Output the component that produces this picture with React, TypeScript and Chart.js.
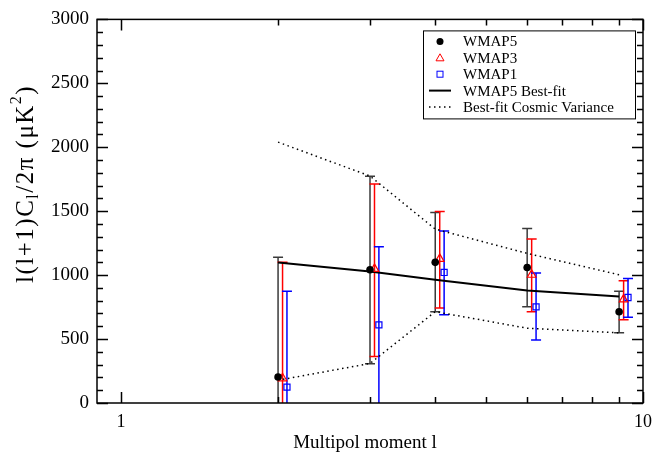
import React, { useEffect, useRef } from 'react';
import { Chart, registerables } from 'chart.js';

Chart.register(...registerables);

// ---- data ----
const multipoles = [2, 3, 4, 6, 9];
const wmap5 = [203, 1042, 1100, 1060, 714];
const wmap5Hi = [1139, 1773, 1490, 1364, 874];
const wmap5Lo = [-733, 307, 714, 752, 549];
const wmap3 = [193, 1049, 1127, 1003, 810];
const wmap3Hi = [1100, 1712, 1498, 1283, 957];
const wmap3Lo = [-714, 363, 742, 714, 652];
const wmap1 = [124, 611, 1021, 752, 825];
const wmap1Hi = [874, 1222, 1346, 1016, 974];
const wmap1Lo = [-626, -200, 691, 492, 670];
const bestFit = [1098, 1029, 964, 879, 833];
const cvUpper = [2040, 1775, 1360, 1170, 1003];
const cvLower = [178, 309, 714, 585, 549];
const wmap3Shift = 1.02;
const wmap1Shift = 1.04;
const xTickLabels = [1, 10];
const xMinorTicks = [2, 3, 4, 5, 6, 7, 8, 9];
const legendLabels = ['WMAP5', 'WMAP3', 'WMAP1', 'WMAP5 Best-fit', 'Best-fit Cosmic Variance'];
const xTitle = 'Multipol moment l';

const FONT = '"Liberation Serif", "DejaVu Serif", serif';

const pts = (xs: number[], ys: number[], k = 1) => xs.map((x, i) => ({ x: x * k, y: ys[i] }));

const errorBarPlugin = {
  id: 'errorBars',
  beforeDatasetsDraw(chart: any) {
    const { ctx, chartArea, scales } = chart;
    const xs = scales.x, ys = scales.y;
    ctx.save();
    ctx.beginPath();
    ctx.rect(chartArea.left, chartArea.top, chartArea.right - chartArea.left, chartArea.bottom - chartArea.top);
    ctx.clip();
    const series = [
      { k: 1, hi: wmap5Hi, lo: wmap5Lo, color: '#3a3a3a' },
      { k: wmap3Shift, hi: wmap3Hi, lo: wmap3Lo, color: '#ff0000' },
      { k: wmap1Shift, hi: wmap1Hi, lo: wmap1Lo, color: '#0000ff' },
    ];
    for (const s of series) {
      ctx.strokeStyle = s.color;
      ctx.lineWidth = 1.5;
      multipoles.forEach((l, i) => {
        const x = xs.getPixelForValue(l * s.k);
        const yh = ys.getPixelForValue(s.hi[i]);
        const yl = ys.getPixelForValue(s.lo[i]);
        ctx.beginPath();
        ctx.moveTo(x, yh);
        ctx.lineTo(x, yl);
        ctx.moveTo(x - 5, yh);
        ctx.lineTo(x + 5, yh);
        ctx.moveTo(x - 5, yl);
        ctx.lineTo(x + 5, yl);
        ctx.stroke();
      });
    }
    ctx.restore();
  },
};

const framePlugin = {
  id: 'frame',
  afterDraw(chart: any) {
    const { ctx, chartArea, scales } = chart;
    const { left, right, top, bottom } = chartArea;
    ctx.save();
    ctx.strokeStyle = '#000';
    ctx.lineWidth = 1.5;
    ctx.strokeRect(left, top, right - left, bottom - top);
    ctx.beginPath();
    for (let v = 0; v <= 3000; v += 100) {
      const len = v % 500 === 0 ? 11 : 6;
      const y = Math.round(scales.y.getPixelForValue(v)) + 0.5;
      ctx.moveTo(left, y);
      ctx.lineTo(left + len, y);
      ctx.moveTo(right, y);
      ctx.lineTo(right - len, y);
    }
    const xt = [...xTickLabels.map((v) => ({ v, len: 11 })), ...xMinorTicks.map((v) => ({ v, len: 6 }))];
    for (const t of xt) {
      const x = Math.round(scales.x.getPixelForValue(t.v)) + 0.5;
      ctx.moveTo(x, bottom);
      ctx.lineTo(x, bottom - t.len);
      ctx.moveTo(x, top);
      ctx.lineTo(x, top + t.len);
    }
    ctx.stroke();

    // axis titles
    ctx.fillStyle = '#000';
    ctx.font = `19px ${FONT}`;
    ctx.textAlign = 'center';
    ctx.textBaseline = 'alphabetic';
    ctx.fillText(xTitle, (left + right) / 2 - 5, 448);

    // y title with subscript / superscript
    const size = 25;
    const small = 16;
    const spacing = 1.5;
    const parts = [
      { t: 'l(l+1)C', f: size, dy: 0 },
      { t: 'l', f: small, dy: 5 },
      { t: '/2\u03c0 (\u03bcK', f: size, dy: 0 },
      { t: '2', f: small, dy: -12 },
      { t: ')', f: size, dy: 0 },
    ];
    ctx.save();
    ctx.translate(33, 283);
    ctx.rotate(-Math.PI / 2);
    ctx.textAlign = 'left';
    let cx = 0;
    for (const p of parts) {
      ctx.font = `${p.f}px ${FONT}`;
      for (const ch of p.t) {
        ctx.fillText(ch, cx, p.dy);
        cx += ctx.measureText(ch).width + spacing;
      }
    }
    ctx.restore();

    // legend
    const bx = right - 220, by = top + 11, bw = 212, bh = 88;
    ctx.fillStyle = '#fff';
    ctx.fillRect(bx, by, bw, bh);
    ctx.lineWidth = 1;
    ctx.strokeStyle = '#000';
    ctx.strokeRect(bx + 0.5, by + 0.5, bw, bh);
    ctx.font = `15px ${FONT}`;
    ctx.textAlign = 'left';
    ctx.textBaseline = 'middle';
    const symX = bx + 17;
    legendLabels.forEach((lab, i) => {
      const y = by + 11 + i * 16.4;
      ctx.fillStyle = '#000';
      ctx.fillText(lab, bx + 40, y + 1);
      ctx.save();
      if (i === 0) {
        ctx.beginPath();
        ctx.arc(symX, y, 3.5, 0, Math.PI * 2);
        ctx.fillStyle = '#000';
        ctx.fill();
      } else if (i === 1) {
        ctx.beginPath();
        ctx.moveTo(symX, y - 4);
        ctx.lineTo(symX + 4, y + 3);
        ctx.lineTo(symX - 4, y + 3);
        ctx.closePath();
        ctx.strokeStyle = '#ff0000';
        ctx.lineWidth = 1;
        ctx.stroke();
      } else if (i === 2) {
        ctx.strokeStyle = '#0000ff';
        ctx.lineWidth = 1;
        ctx.strokeRect(symX - 3, y - 3, 6, 6);
      } else if (i === 3) {
        ctx.beginPath();
        ctx.moveTo(symX - 11, y);
        ctx.lineTo(symX + 11, y);
        ctx.strokeStyle = '#000';
        ctx.lineWidth = 2;
        ctx.stroke();
      } else {
        ctx.beginPath();
        ctx.setLineDash([1.5, 3.5]);
        ctx.moveTo(symX - 11, y);
        ctx.lineTo(symX + 11, y);
        ctx.strokeStyle = '#000';
        ctx.lineWidth = 1.5;
        ctx.stroke();
      }
      ctx.restore();
    });
    ctx.restore();
  },
};

export default function App() {
  const ref = useRef<HTMLCanvasElement | null>(null);
  useEffect(() => {
    if (!ref.current) return;
    const chart = new Chart(ref.current, {
      type: 'scatter',
      data: {
        datasets: [
          {
            label: legendLabels[0],
            data: pts(multipoles, wmap5),
            pointStyle: 'circle',
            pointRadius: 3.8,
            backgroundColor: '#000',
            borderColor: '#000',
            borderWidth: 0,
            showLine: false,
            order: 1,
          },
          {
            label: legendLabels[1],
            data: pts(multipoles, wmap3, wmap3Shift),
            pointStyle: 'triangle',
            pointRadius: 5,
            backgroundColor: 'rgba(0,0,0,0)',
            borderColor: '#ff0000',
            borderWidth: 1.2,
            showLine: false,
            order: 2,
          },
          {
            label: legendLabels[2],
            data: pts(multipoles, wmap1, wmap1Shift),
            pointStyle: 'rect',
            pointRadius: 4.3,
            backgroundColor: 'rgba(0,0,0,0)',
            borderColor: '#0000ff',
            borderWidth: 1.2,
            showLine: false,
            order: 3,
          },
          {
            label: legendLabels[3],
            data: pts(multipoles, bestFit),
            showLine: true,
            pointRadius: 0,
            borderColor: '#000',
            borderWidth: 2,
            fill: false,
            order: 4,
          },
          {
            label: legendLabels[4],
            data: pts(multipoles, cvUpper),
            showLine: true,
            pointRadius: 0,
            borderColor: '#000',
            borderWidth: 1.5,
            borderDash: [1.5, 3.5],
            fill: false,
            order: 5,
          },
          {
            label: legendLabels[4] + ' (lower)',
            data: pts(multipoles, cvLower),
            showLine: true,
            pointRadius: 0,
            borderColor: '#000',
            borderWidth: 1.5,
            borderDash: [1.5, 3.5],
            fill: false,
            order: 6,
          },
        ],
      },
      options: {
        animation: false,
        responsive: false,
        maintainAspectRatio: false,
        layout: { padding: { top: 15, right: 10, left: 0, bottom: 0 } },
        plugins: { legend: { display: false }, tooltip: { enabled: false } },
        scales: {
          x: {
            type: 'logarithmic',
            min: 0.9,
            max: 10,
            grid: { display: false, drawTicks: false },
            border: { display: false },
            ticks: {
              font: { family: FONT, size: 18 },
              color: '#000',
              padding: 8,
              maxRotation: 0,
              autoSkip: false,
              callback: (v: any) => (xTickLabels.includes(Number(v)) ? String(v) : ''),
            },
            afterBuildTicks: (s: any) => {
              s.ticks = xTickLabels.map((v) => ({ value: v }));
            },
            afterFit: (s: any) => {
              s.height = 54;
            },
          },
          y: {
            min: 0,
            max: 3000,
            grid: { display: false, drawTicks: false },
            border: { display: false },
            ticks: {
              stepSize: 500,
              font: { family: FONT, size: 19 },
              color: '#000',
              padding: 8,
              callback: (v: any) => String(v),
            },
            afterFit: (s: any) => {
              s.width = 97;
            },
          },
        },
      },
      plugins: [errorBarPlugin, framePlugin],
    } as any);
    return () => chart.destroy();
  }, []);
  return (
    <div style={{ position: 'absolute', left: 0, top: 0, width: 660, height: 457, background: '#fff' }}>
      <canvas ref={ref} width={660} height={457} />
    </div>
  );
}
